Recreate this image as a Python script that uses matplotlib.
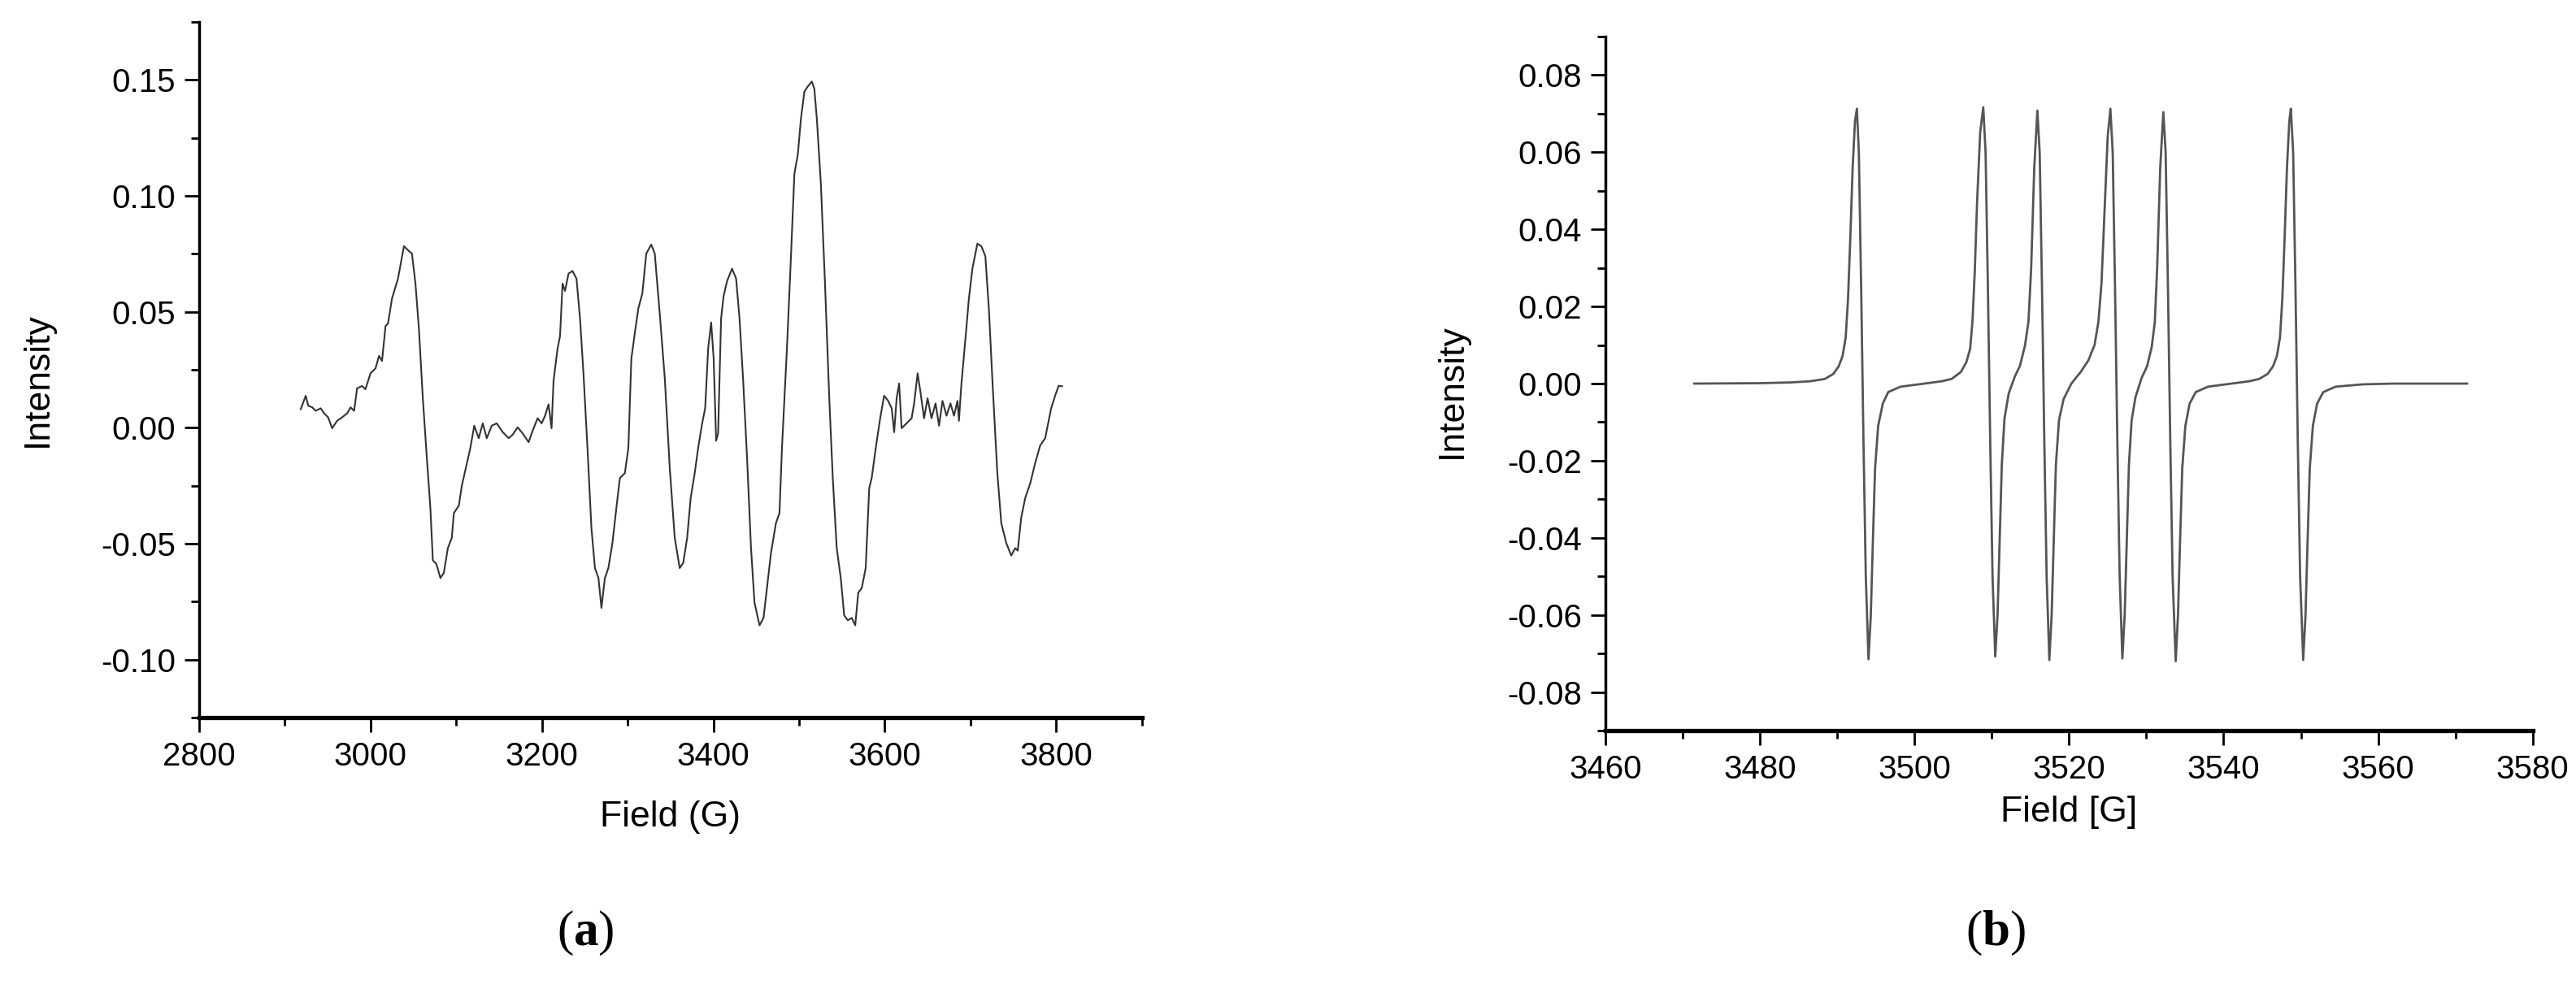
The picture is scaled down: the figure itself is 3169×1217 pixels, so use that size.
import matplotlib
matplotlib.use("Agg")
import matplotlib.pyplot as plt
from matplotlib.ticker import MultipleLocator, FormatStrFormatter

field_a = [2918.5, 2924.4, 2927.3, 2932.0, 2936.0, 2941.8, 2945.9, 2950.5, 2955.2, 2961.0,
           2966.8, 2972.7, 2976.7, 2980.8, 2984.3, 2990.0, 2994.0, 3000.0, 3005.8, 3009.9,
           3013.4, 3017.5, 3020.4, 3025.0, 3032.0, 3039.0, 3044.8, 3048.3, 3052.4, 3056.4,
           3061.0, 3065.7, 3069.8, 3072.7, 3076.8, 3081.5, 3085.5, 3090.2, 3094.8, 3097.2,
           3103.0, 3106.5, 3110.5, 3116.4, 3121.0, 3126.2, 3130.9, 3135.6, 3141.4, 3147.2,
           3154.2, 3161.2, 3165.8, 3171.6, 3177.4, 3184.4, 3189.1, 3194.9, 3199.6, 3203.6,
           3207.7, 3211.2, 3213.5, 3218.2, 3221.1, 3224.0, 3226.9, 3231.0, 3235.6, 3240.3,
           3244.4, 3248.4, 3253.1, 3257.7, 3261.8, 3265.9, 3269.4, 3273.4, 3277.5, 3282.2,
           3286.8, 3290.9, 3296.7, 3300.8, 3304.3, 3308.3, 3312.4, 3317.1, 3321.7, 3327.5,
           3331.6, 3337.4, 3343.3, 3349.1, 3354.9, 3360.7, 3364.8, 3369.4, 3373.5, 3378.2,
           3382.2, 3386.9, 3390.4, 3393.9, 3397.4, 3400.3, 3403.2, 3405.5, 3409.0, 3411.9,
           3416.0, 3421.8, 3426.5, 3430.5, 3434.6, 3439.3, 3443.9, 3448.0, 3453.8, 3458.5,
           3462.5, 3467.2, 3473.0, 3477.1, 3480.0, 3485.8, 3490.4, 3494.5, 3498.6, 3502.1,
           3506.2, 3510.2, 3514.9, 3517.8, 3520.7, 3525.4, 3530.0, 3535.2, 3539.3, 3543.9,
           3548.6, 3552.6, 3556.8, 3561.4, 3565.5, 3569.0, 3573.1, 3577.7, 3581.8, 3584.7,
           3589.4, 3594.6, 3599.2, 3603.9, 3608.0, 3610.9, 3613.8, 3616.7, 3619.6, 3625.4,
           3631.3, 3634.2, 3638.3, 3641.8, 3645.8, 3649.9, 3654.5, 3659.2, 3663.3, 3667.3,
           3672.0, 3676.6, 3680.7, 3684.8, 3686.5, 3689.4, 3694.1, 3698.1, 3702.2, 3708.0,
           3712.7, 3717.3, 3721.4, 3726.0, 3731.3, 3735.9, 3741.7, 3747.5, 3752.2, 3755.1,
           3759.1, 3763.8, 3769.7, 3775.4, 3781.2, 3787.1, 3789.4, 3794.1, 3798.7, 3802.8,
           3806.8]
intensity_a = [0.0080, 0.0138, 0.0095, 0.0088, 0.0073, 0.0084, 0.0062, 0.0045, -0.0002, 0.0030,
               0.0045, 0.0062, 0.0088, 0.0073, 0.0170, 0.0180, 0.0166, 0.0235, 0.0256, 0.0310,
               0.0288, 0.0439, 0.0450, 0.0557, 0.0643, 0.0783, 0.0762, 0.0751, 0.0622, 0.0428,
               0.0127, -0.0131, -0.0346, -0.0572, -0.0587, -0.0648, -0.0626, -0.0519, -0.0475, -0.0368,
               -0.0336, -0.0250, -0.0185, -0.0088, 0.0009, -0.0045, 0.0019, -0.0045, 0.0009, 0.0019,
               -0.0019, -0.0045, -0.0030, 0.0002, -0.0024, -0.0062, -0.0013, 0.0041, 0.0019, 0.0052,
               0.0101, -0.0002, 0.0202, 0.0342, 0.0396, 0.0622, 0.0590, 0.0665, 0.0676, 0.0643,
               0.0471, 0.0235, -0.0088, -0.0432, -0.0605, -0.0648, -0.0777, -0.0648, -0.0605, -0.0497,
               -0.0346, -0.0217, -0.0196, -0.0088, 0.0299, 0.0407, 0.0514, 0.0579, 0.0751, 0.0790,
               0.0751, 0.0493, 0.0213, -0.0174, -0.0475, -0.0605, -0.0583, -0.0475, -0.0303, -0.0196,
               -0.0088, 0.0019, 0.0084, 0.0342, 0.0454, 0.0299, -0.0056, -0.0024, 0.0471, 0.0568,
               0.0633, 0.0686, 0.0643, 0.0471, 0.0213, -0.0131, -0.0519, -0.0755, -0.0852, -0.0820,
               -0.0691, -0.0540, -0.0411, -0.0368, -0.0088, 0.0342, 0.0729, 0.1095, 0.1181, 0.1332,
               0.1450, 0.1472, 0.1493, 0.1461, 0.1332, 0.1052, 0.0643, 0.0127, -0.0217, -0.0519,
               -0.0648, -0.0809, -0.0830, -0.0820, -0.0852, -0.0712, -0.0691, -0.0605, -0.0260, -0.0217,
               -0.0088, 0.0041, 0.0138, 0.0116, 0.0084, -0.0019, 0.0127, 0.0191, -0.0002, 0.0019,
               0.0041, 0.0105, 0.0235, 0.0148, 0.0041, 0.0127, 0.0041, 0.0105, 0.0009, 0.0116,
               0.0052, 0.0105, 0.0052, 0.0116, 0.0030, 0.0191, 0.0385, 0.0557, 0.0686, 0.0794,
               0.0783, 0.0740, 0.0514, 0.0170, -0.0196, -0.0411, -0.0497, -0.0551, -0.0519, -0.0530,
               -0.0389, -0.0303, -0.0239, -0.0153, -0.0077, -0.0045, -0.0002, 0.0084, 0.0138, 0.0181,
               0.0179]

# (b) simulated spectrum
field_b = [3471.5, 3480.0, 3484.0, 3486.5, 3488.4, 3489.5, 3490.2, 3490.7, 3491.1, 3491.4,
           3491.7, 3492.0, 3492.3, 3492.55, 3492.8, 3493.1, 3493.4, 3493.7, 3494.05, 3494.35,
           3494.6, 3494.9, 3495.3, 3495.9, 3496.6, 3498.2, 3501.3, 3503.5, 3504.8, 3506.0,
           3506.7, 3507.2, 3507.5, 3507.8, 3508.1, 3508.5, 3508.9, 3509.2, 3509.5, 3509.8,
           3510.1, 3510.45, 3510.75, 3511.0, 3511.3, 3511.65, 3512.2, 3513.0, 3513.65, 3514.3,
           3514.75, 3515.1, 3515.5, 3515.9, 3516.2, 3516.5, 3516.8, 3517.1, 3517.45, 3517.75,
           3518.0, 3518.3, 3518.7, 3519.3, 3520.3, 3521.5, 3522.5, 3523.3, 3523.8, 3524.2,
           3524.6, 3525.0, 3525.35, 3525.65, 3525.95, 3526.25, 3526.55, 3526.9, 3527.2, 3527.45,
           3527.75, 3528.1, 3528.6, 3529.4, 3530.1, 3530.7, 3531.1, 3531.4, 3531.8, 3532.2,
           3532.5, 3532.8, 3533.1, 3533.4, 3533.8, 3534.1, 3534.35, 3534.65, 3535.05, 3535.6,
           3536.4, 3538.0, 3541.0, 3543.3, 3544.6, 3545.7, 3546.4, 3546.9, 3547.3, 3547.6,
           3547.9, 3548.2, 3548.5, 3548.7, 3549.0, 3549.3, 3549.6, 3549.9, 3550.3, 3550.6,
           3550.85, 3551.15, 3551.55, 3552.1, 3552.9, 3554.5, 3558.0, 3562.0, 3571.5]
intensity_b = [0.0000, 0.0001, 0.0003, 0.0006, 0.0012, 0.0025, 0.0045, 0.0072, 0.0120, 0.0220,
               0.0380, 0.0560, 0.0680, 0.0713, 0.0600, 0.0250, -0.0150, -0.0500, -0.0715, -0.0600,
               -0.0420, -0.0220, -0.0110, -0.0052, -0.0022, -0.0008, 0.0000, 0.0006, 0.0012, 0.0030,
               0.0055, 0.0090, 0.0160, 0.0290, 0.0470, 0.0651, 0.0717, 0.0600, 0.0250, -0.0150,
               -0.0500, -0.0708, -0.0600, -0.0420, -0.0210, -0.0090, -0.0025, 0.0019, 0.0046, 0.0099,
               0.0161, 0.0300, 0.0560, 0.0708, 0.0600, 0.0250, -0.0150, -0.0500, -0.0717, -0.0600,
               -0.0420, -0.0210, -0.0095, -0.0040, 0.0000, 0.0030, 0.0060, 0.0100, 0.0160, 0.0260,
               0.0450, 0.0640, 0.0713, 0.0600, 0.0250, -0.0150, -0.0500, -0.0713, -0.0600, -0.0420,
               -0.0210, -0.0095, -0.0035, 0.0015, 0.0045, 0.0095, 0.0160, 0.0300, 0.0560, 0.0704,
               0.0600, 0.0250, -0.0150, -0.0500, -0.0720, -0.0600, -0.0420, -0.0220, -0.0110, -0.0052,
               -0.0022, -0.0008, 0.0000, 0.0006, 0.0012, 0.0025, 0.0045, 0.0072, 0.0120, 0.0220,
               0.0380, 0.0560, 0.0680, 0.0713, 0.0600, 0.0250, -0.0150, -0.0500, -0.0717, -0.0600,
               -0.0420, -0.0220, -0.0110, -0.0052, -0.0022, -0.0008, -0.0002, 0.0000, 0.0000]

plt.rcParams["font.family"] = ["Liberation Sans Narrow", "Liberation Sans", "DejaVu Sans"]
plt.rcParams["mathtext.fontset"] = "custom"
plt.rcParams["mathtext.rm"] = "Liberation Serif"
plt.rcParams["mathtext.bf"] = "Liberation Serif:bold"

fig = plt.figure(figsize=(31.69, 12.17), dpi=100)
ax1 = fig.add_axes([0.0773, 0.2744, 0.366, 0.7034])
ax2 = fig.add_axes([0.6232, 0.2613, 0.360, 0.7017])


def style(ax, xmaj, xmin, ymaj, ymin):
    for s in ["top", "right"]:
        ax.spines[s].set_visible(False)
    ax.spines["left"].set_linewidth(2.5)
    ax.spines["bottom"].set_linewidth(3.8)
    ax.xaxis.set_major_locator(MultipleLocator(xmaj))
    ax.xaxis.set_minor_locator(MultipleLocator(xmin))
    ax.yaxis.set_major_locator(MultipleLocator(ymaj))
    ax.yaxis.set_minor_locator(MultipleLocator(ymin))
    ax.yaxis.set_major_formatter(FormatStrFormatter("%.2f"))
    ax.tick_params(which="major", length=13, width=2, labelsize=29, pad=8)
    ax.tick_params(which="minor", length=7.5, width=2)


ax1.plot(field_a, intensity_a, color="#333333", lw=1.5)
ax1.set_xlim(2800, 3900)
ax1.set_ylim(-0.125, 0.175)
style(ax1, 200, 100, 0.05, 0.025)
ax1.set_xticks([2800, 3000, 3200, 3400, 3600, 3800])
ax1.set_xlabel("Field (G)", fontsize=32)
ax1.set_ylabel("Intensity", fontsize=32)
ax1.xaxis.set_label_coords(0.5, -0.1425)
ax1.yaxis.set_label_coords(-0.171, 0.486)

ax2.plot(field_b, intensity_b, color="#555555", lw=2.0)
ax2.set_xlim(3460, 3580)
ax2.set_ylim(-0.09, 0.09)
style(ax2, 20, 10, 0.02, 0.01)
ax2.set_xlabel("Field [G]", fontsize=32)
ax2.set_ylabel("Intensity", fontsize=32)
ax2.xaxis.set_label_coords(0.5, -0.118)
ax2.yaxis.set_label_coords(-0.165, 0.489)

for a in (ax1, ax2):
    a.xaxis.label.set_va("center")
    a.yaxis.label.set_va("center")

fig.text(0.2272, 0.0567, r"$\mathrm{(}\mathbf{a}\mathrm{)}$", fontsize=44, ha="center", va="center")
fig.text(0.7747, 0.0567, r"$\mathrm{(}\mathbf{b}\mathrm{)}$", fontsize=44, ha="center", va="center")

fig.savefig("out.png", dpi=100, facecolor="white")
